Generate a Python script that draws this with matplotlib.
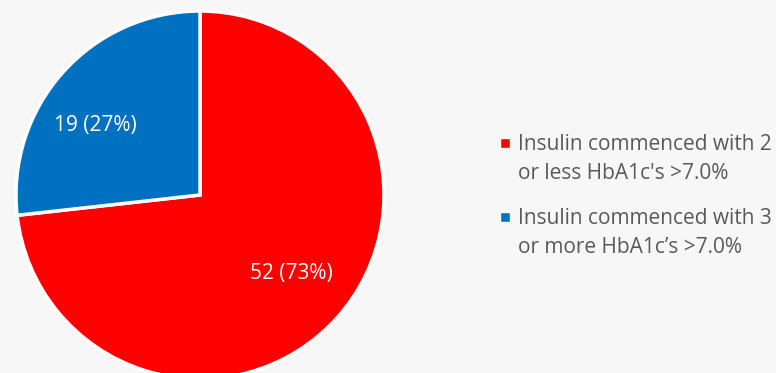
import matplotlib
matplotlib.use('Agg')
import matplotlib.pyplot as plt

# data
labels = ["Insulin commenced with 2\nor less HbA1c's >7.0%",
          "Insulin commenced with 3\nor more HbA1c\u2019s >7.0%"]
counts = [52, 19]
colors = ['#FF0000', '#0070C0']

plt.rcParams['font.family'] = ['Open Sans', 'DejaVu Sans']

fig = plt.figure(figsize=(7.76, 3.73), dpi=100)
fig.patch.set_facecolor('#F7F7F7')
ax = fig.add_axes([0, 0, 1, 1])

total = sum(counts)


def fmt(pct):
    n = int(round(pct * total / 100.0))
    return f"{n} ({pct:.0f}%)"


wedges, texts, autotexts = ax.pie(
    counts, colors=colors, startangle=90, counterclock=False,
    center=(200, 178), radius=184, autopct=fmt, pctdistance=0.67,
    wedgeprops=dict(edgecolor='white', linewidth=2.5),
    textprops=dict(color='white', fontsize=15), frame=True)
ax.set_xlim(0, 776)
ax.set_ylim(0, 373)
ax.set_aspect('equal')
ax.axis('off')

# nudge the value labels a little, like Excel's placement
label_shift = [(0, 4), (-13, -13)]
for t, (dx, dy) in zip(autotexts, label_shift):
    x0, y0 = t.get_position()
    t.set_position((x0 + dx, y0 + dy))

# legend drawn by hand so the marker sits on the first line
y = 223
for lab, c in zip(labels, colors):
    ax.plot(505, y + 7, marker='s', markersize=7, color=c,
            markeredgecolor='white', markeredgewidth=1)
    for j, line in enumerate(lab.split('\n')):
        ax.text(518, y - 29 * j, line, fontsize=15, color='#595959',
                va='baseline', ha='left')
    y -= 74

fig.savefig('out.png', dpi=100, facecolor=fig.get_facecolor())
